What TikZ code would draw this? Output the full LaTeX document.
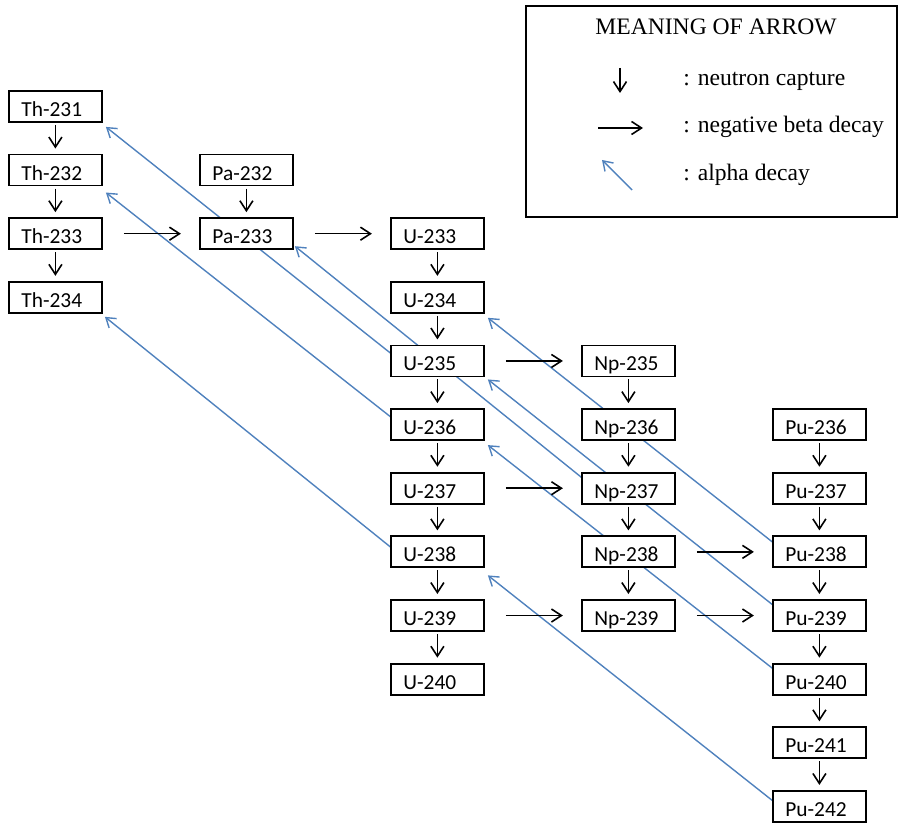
\documentclass[tikz,border=0pt]{standalone}
\usepackage{fontspec}
\setmainfont{Liberation Serif}
\newfontfamily\boxfont{Carlito}
\usepackage{tikz}
\usetikzlibrary{arrows.meta}
\usetikzlibrary{matrix}
\usetikzlibrary{backgrounds}
\definecolor{alphablue}{RGB}{79,129,189}

\begin{document}
\begin{tikzpicture}[x=0.5pt,y=-0.5pt,
isotope/.style={draw,line width=0.9pt,fill=white,outer sep=0pt,anchor=center,
  minimum width=46.5pt,minimum height=15.5pt,inner xsep=6.25pt,inner ysep=2pt,
  text width=34pt,align=left,text height=10pt,text depth=0pt,
  font=\boxfont\fontsize{10.7}{12}\selectfont},
ncapture/.style={line width=0.8pt,-{Straight Barb[length=5pt,width=6.5pt]},
  shorten <=1.5pt,shorten >=3pt},
betadecay/.style={line width=0.8pt,-{Straight Barb[length=5pt,width=6.5pt]},
  shorten <=11pt,shorten >=9.5pt},
alphadecay/.style={alphablue,line width=0.7pt,-{Straight Barb[length=4.5pt,width=6pt]}},
keytext/.style={font=\fontsize{11.8}{14}\selectfont,inner sep=0pt}]
\useasboundingbox (0,0) rectangle (900,823);
\matrix (chain) [matrix of nodes, nodes={isotope}, anchor=north west,
  inner sep=0pt, outer sep=0pt,
  row sep={31.82pt,between origins}, column sep={95.5pt,between origins}]
  at (8,90)
{
|(th231)|Th-231 & & & & \\
|(th232)|Th-232 & |(pa232)|Pa-232 & & & \\
|(th233)|Th-233 & |(pa233)|Pa-233 & |(u233)|U-233 & & \\
|(th234)|Th-234 & & |(u234)|U-234 & & \\
& & |(u235)|U-235 & |(np235)|Np-235 & \\
& & |(u236)|U-236 & |(np236)|Np-236 & |(pu236)|Pu-236 \\
& & |(u237)|U-237 & |(np237)|Np-237 & |(pu237)|Pu-237 \\
& & |(u238)|U-238 & |(np238)|Np-238 & |(pu238)|Pu-238 \\
& & |(u239)|U-239 & |(np239)|Np-239 & |(pu239)|Pu-239 \\
& & |(u240)|U-240 & & |(pu240)|Pu-240 \\
& & & & |(pu241)|Pu-241 \\
& & & & |(pu242)|Pu-242 \\
};
\draw[ncapture] (th231) -- (th232);
\draw[ncapture] (th232) -- (th233);
\draw[ncapture] (th233) -- (th234);
\draw[ncapture] (pa232) -- (pa233);
\draw[ncapture] (u233) -- (u234);
\draw[ncapture] (u234) -- (u235);
\draw[ncapture] (u235) -- (u236);
\draw[ncapture] (u236) -- (u237);
\draw[ncapture] (u237) -- (u238);
\draw[ncapture] (u238) -- (u239);
\draw[ncapture] (u239) -- (u240);
\draw[ncapture] (np235) -- (np236);
\draw[ncapture] (np236) -- (np237);
\draw[ncapture] (np237) -- (np238);
\draw[ncapture] (np238) -- (np239);
\draw[ncapture] (pu236) -- (pu237);
\draw[ncapture] (pu237) -- (pu238);
\draw[ncapture] (pu238) -- (pu239);
\draw[ncapture] (pu239) -- (pu240);
\draw[ncapture] (pu240) -- (pu241);
\draw[ncapture] (pu241) -- (pu242);
\draw[betadecay] (th233) -- (pa233);
\draw[betadecay] (pa233) -- (u233);
\draw[betadecay] (u235) -- (np235);
\draw[betadecay] (u237) -- (np237);
\draw[betadecay] (u239) -- (np239);
\draw[betadecay] (np238) -- (pu238);
\draw[betadecay] (np239) -- (pu239);
\begin{scope}[on background layer]
\draw[alphadecay] ([yshift=-4pt]u235.north west) -- ([xshift=2pt,yshift=-2.5pt]th231.south east);
\draw[alphadecay] ([yshift=-2.5pt]np237.north west) -- ([xshift=1pt,yshift=1.5pt]pa233.south east);
\draw[alphadecay] ([yshift=-4pt]u236.north west) -- ([xshift=2pt,yshift=-3.5pt]th232.south east);
\draw[alphadecay] ([yshift=-5.5pt]u238.north west) -- ([xshift=1.5pt,yshift=-2pt]th234.south east);
\draw[alphadecay] ([yshift=-3pt]pu238.north west) -- ([xshift=2pt,yshift=-2.5pt]u234.south east);
\draw[alphadecay] ([yshift=-2.5pt]pu239.north west) -- ([xshift=2pt,yshift=-1.5pt]u235.south east);
\draw[alphadecay] ([yshift=-2.5pt]pu240.north west) -- ([xshift=2pt,yshift=-2.5pt]u236.south east);
\draw[alphadecay] ([yshift=-5pt]pu242.north west) -- ([xshift=2pt,yshift=-4pt]u238.south east);
\end{scope}
% key
\node[draw,line width=0.9pt,outer sep=0pt,inner sep=0pt,anchor=north west,
  minimum width=185.5pt,minimum height=105.5pt] (legend) at (526,6) {};
\node[keytext,anchor=base] (keytitle) at (716,35) {MEANING OF ARROW};
\coordinate (ncapA) at (620,68);
\coordinate (ncapB) at (620,93);
\coordinate (betaA) at (598,128);
\coordinate (betaB) at (643,128);
\coordinate (alphaA) at (632,190);
\coordinate (alphaB) at (602,160);
\draw[ncapture,shorten <=0pt,shorten >=0pt] (ncapA) -- (ncapB);
\draw[betadecay,shorten <=0pt,shorten >=0pt] (betaA) -- (betaB);
\draw[alphadecay] (alphaA) -- (alphaB);
\node[keytext,anchor=base west] (ncaptext) at (683,86) {: neutron capture};
\node[keytext,anchor=base west] (betatext) at (683,133) {: negative beta decay};
\node[keytext,anchor=base west] (alphatext) at (683,181) {: alpha decay};
\end{tikzpicture}
\end{document}
